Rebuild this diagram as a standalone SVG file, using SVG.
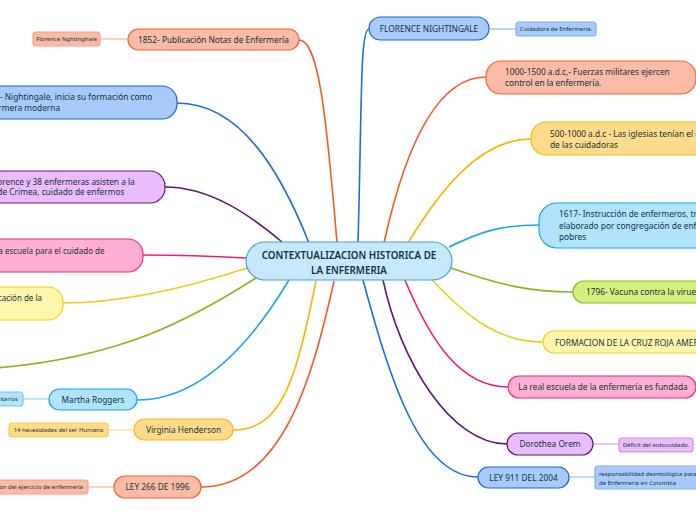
<svg xmlns="http://www.w3.org/2000/svg" width="696" height="520" viewBox="0 0 696 520">
<style>
text{font-family:"Noto Sans","Open Sans","DejaVu Sans",sans-serif;fill:#12343f}
.t{font-size:8.3px}
.s{font-size:6px}
.c{text-anchor:middle}
.title{font-size:9.8px;font-weight:600;text-anchor:middle;fill:#14304a}
.con path{fill:none;stroke-width:1.6}
.sub path{fill:none;stroke-width:1.4}
rect{stroke-width:1.2}
.salmon{fill:#f9bba6;stroke:#f26430}
.blue{fill:#a8cbfb;stroke:#1a66d6}
.purple{fill:#eabcfb;stroke:#5b1a78}
.pink{fill:#ffb0d2;stroke:#f2267a}
.yel{fill:#fff6ac;stroke:#eed21b}
.green{fill:#d6f07f;stroke:#87bb1f}
.cyan{fill:#b1e4fb;stroke:#1aa4ec}
.oy{fill:#fedb8a;stroke:#fbb617}
.salmon2{fill:#f9bba6;stroke:#f8a083}
.blue2{fill:#a8cbfb;stroke:#7eaef5}
.purple2{fill:#eabcfb;stroke:#c795dd}
.cyan2{fill:#b1e4fb;stroke:#6fcaf5}
.oy2{fill:#fedb8a;stroke:#fcc956}
</style>
<rect width="696" height="520" fill="#ffffff"/>
<g id="connectors">
<g class="con">
<path d="M337,243 C326,110 318,40 299,40" stroke="#f4592a"/>
<path d="M309,243 C280,170 240,103 177,103" stroke="#1a6ee0"/>
<path d="M282,242 C250,215 210,187 165,187" stroke="#5b1a78"/>
<path d="M246,258 C210,256 180,255 143,255" stroke="#f21d73"/>
<path d="M247,268 C180,290 120,303 63,303" stroke="#e8d01a"/>
<path d="M256,278 C190,320 120,358 -5,368" stroke="#86b81c"/>
<path d="M289,280 C250,345 200,400 137,400" stroke="#17a6ee"/>
<path d="M316,281 C296,380 282,430 233,430" stroke="#fbb400"/>
<path d="M334,281 C312,380 282,487 201,487" stroke="#f4592a"/>
<path d="M358,243 C362,100 360,29 369,29" stroke="#1a6ee0"/>
<path d="M384,243 C400,170 430,77 486,77" stroke="#f4592a"/>
<path d="M408,243 C440,190 480,139 531,139" stroke="#fbb400"/>
<path d="M449,247 C480,232 500,225 539,225" stroke="#17a6ee"/>
<path d="M451,268 C500,285 530,292 573,292" stroke="#86b81c"/>
<path d="M432,280 C470,320 500,342 543,342" stroke="#e8d01a"/>
<path d="M405,280 C430,340 460,387 508,387" stroke="#f21d73"/>
<path d="M383,280 C400,360 450,444 507,444" stroke="#5b1a78"/>
<path d="M363,280 C390,380 420,477 478,477" stroke="#1a6ee0"/>
</g>
<g class="sub">
<path d="M100,39 L128,39" stroke="#f9c0ab"/>
<path d="M23,399 L49,399" stroke="#a6dcf8"/>
<path d="M108,430 L134,430" stroke="#fde3a0"/>
<path d="M88,487 L114,487" stroke="#f9c0ab"/>
<path d="M489,29 L516,29" stroke="#9cc0f3"/>
<path d="M593,444 L619,444" stroke="#d9b3e6"/>
<path d="M569,477 L595,477" stroke="#a9c9f6"/>
</g>
</g>

<g id="center">
<rect x="246" y="242" width="206" height="38" rx="19" fill="#c5e9fb" stroke="#4aa0d8"/>
<text class="title" x="349" y="258.5">CONTEXTUALIZACION HISTORICA DE</text>
<text class="title" x="349" y="274">LA ENFERMERIA</text>
</g>

<g id="n1852">
<rect class="salmon" x="128" y="29" width="171" height="21" rx="10.5"/>
<text class="t c" x="213.5" y="42.5">1852- Publicación Notas de Enfermería</text>
</g>
<g id="n1852c">
<rect class="salmon2" x="33" y="32" width="67" height="14" rx="3"/>
<text class="s c" x="66.5" y="41.2">Florence Nghtinghale</text>
</g>

<g id="n1851">
<rect class="blue" x="-40" y="86" width="217" height="33" rx="15"/>
<text class="t" x="-19" y="100">1851- Nightingale, inicia su formación como</text>
<text class="t" x="-19" y="111">enfermera moderna</text>
</g>

<g id="ncrimea">
<rect class="purple" x="-40" y="171" width="205" height="32" rx="15"/>
<text class="t" x="-33" y="184.5">1854- Florence y 38 enfermeras asisten a la</text>
<text class="t" x="-31" y="195">guerra de Crimea, cuidado de enfermos</text>
</g>

<g id="nescuela">
<rect class="pink" x="-40" y="239" width="183" height="33" rx="15"/>
<text class="t" x="104.5" y="253.5" text-anchor="end" style="font-size:8px">primera escuela para el cuidado de</text>
</g>

<g id="neduc">
<rect class="yel" x="-40" y="287" width="103" height="33" rx="15"/>
<text class="t" x="42" y="301" text-anchor="end" style="font-size:8px">Educación de la</text>
</g>

<g id="nmartha">
<rect class="cyan" x="49" y="389" width="88" height="21" rx="10.5"/>
<text class="t c" x="93" y="402.5">Martha Roggers</text>
</g>
<g id="nmarthac">
<rect class="cyan2" x="-60" y="392" width="83" height="14" rx="3"/>
<text class="s" x="18" y="401.2" text-anchor="end">Seres humanos unitarios</text>
</g>

<g id="nvirginia">
<rect class="oy" x="134" y="419" width="99" height="21" rx="10.5"/>
<text class="t c" x="183.5" y="433">Virginia Henderson</text>
</g>
<g id="nvirginiac">
<rect class="oy2" x="9" y="423" width="99" height="14" rx="3"/>
<text class="s c" x="58.5" y="432.2">14 necesidades del ser Humano</text>
</g>

<g id="nley266">
<rect class="salmon" x="114" y="476" width="87" height="22" rx="11"/>
<text class="t c" x="157.5" y="490">LEY 266 DE 1996</text>
</g>
<g id="nley266c">
<rect class="salmon2" x="-80" y="480" width="168" height="14" rx="3"/>
<text class="s" x="83" y="489.2" text-anchor="end">Reglamentacion del ejercicio de enfermeria</text>
</g>

<g id="nflorence">
<rect class="blue" x="369" y="17" width="120" height="23" rx="11.5"/>
<text class="t c" x="429" y="31.5">FLORENCE NIGHTINGALE</text>
</g>
<g id="nflorencec">
<rect class="blue2" x="516" y="22" width="80" height="14" rx="3"/>
<text class="s c" x="556" y="31.2">Cuidadora de Enfermeria.</text>
</g>

<g id="n1000">
<rect class="salmon" x="486" y="61" width="210" height="33" rx="15"/>
<text class="t" x="505" y="75">1000-1500 a.d.c,- Fuerzas militares ejercen</text>
<text class="t" x="505" y="86">control en la enfermería.</text>
</g>

<g id="n500">
<rect class="oy" x="531" y="122" width="200" height="33" rx="15"/>
<text class="t" x="550" y="137">500-1000 a.d.c - Las iglesias tenían el control</text>
<text class="t" x="550" y="148">de las cuidadoras</text>
</g>

<g id="n1617">
<rect class="cyan" x="539" y="203" width="200" height="45" rx="18"/>
<text class="t" x="559" y="217.3">1617- Instrucción de enfermeros, trabajo</text>
<text class="t" x="559" y="229">elaborado por congregación de enfermeros</text>
<text class="t" x="559" y="239.7">pobres</text>
</g>

<g id="n1796">
<rect class="green" x="573" y="281" width="150" height="22" rx="11"/>
<text class="t" x="586" y="295">1796- Vacuna contra la viruela</text>
</g>

<g id="ncruz">
<rect class="yel" x="543" y="331" width="200" height="22" rx="11"/>
<text class="t" x="555" y="345.7">FORMACION DE LA CRUZ ROJA AMERICANA</text>
</g>

<g id="nreal">
<rect class="pink" x="508" y="376" width="188" height="22" rx="11"/>
<text class="t c" x="603" y="389.7">La real escuela de la enfermería es fundada</text>
</g>

<g id="norem">
<rect class="purple" x="507" y="433" width="86" height="22" rx="11"/>
<text class="t c" x="550" y="447.3">Dorothea Orem</text>
</g>
<g id="noremc">
<rect class="purple2" x="619" y="438" width="74" height="14" rx="3"/>
<text class="s c" x="656" y="447.2">Déficit del autocuidado.</text>
</g>

<g id="nley911">
<rect class="blue" x="478" y="467" width="91" height="21" rx="10.5"/>
<text class="t c" x="523.5" y="480.5">LEY 911 DEL 2004</text>
</g>
<g id="nley911c">
<rect class="blue2" x="595" y="466" width="130" height="23" rx="3"/>
<text class="s" x="599" y="476">responsabilidad deontológica para el ejercicio</text>
<text class="s" x="599" y="485">de Enfermería en Colombia</text>
</g>
</svg>
